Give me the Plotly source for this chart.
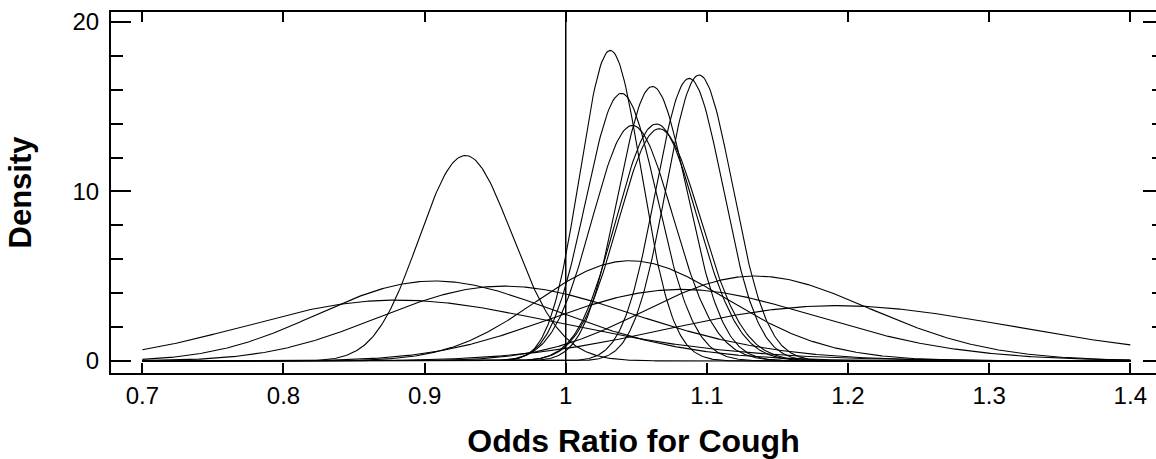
import numpy as np
import plotly.graph_objects as go

# Study-level posterior summaries for the odds ratio (median OR, SD of log OR)
study_median_or = [1.032, 1.040, 1.048, 1.062, 1.065, 1.067, 1.088, 1.095,
                   0.930, 0.915, 0.965, 1.050, 1.140, 0.895, 1.205, 1.090]
study_log_sd = [0.0211, 0.0243, 0.0274, 0.0232, 0.0268, 0.0273, 0.0220, 0.0216,
                0.0354, 0.0928, 0.0940, 0.0644, 0.0700, 0.1250, 0.1020, 0.0870]

or_min, or_max = 0.7, 1.4
reference_or = 1.0
x_tick_vals = [0.7, 0.8, 0.9, 1.0, 1.1, 1.2, 1.3, 1.4]
x_tick_text = ["0.7", "0.8", "0.9", "1", "1.1", "1.2", "1.3", "1.4"]
y_tick_vals = [0, 10, 20]
y_range = [-0.71, 20.59]

grid = np.linspace(or_min, or_max, 700)

fig = go.Figure()
for m, s in zip(study_median_or, study_log_sd):
    dens = np.exp(-((np.log(grid) - np.log(m)) ** 2) / (2 * s * s)) / (grid * s * np.sqrt(2 * np.pi))
    fig.add_trace(go.Scatter(x=grid, y=dens, mode="lines",
                             line=dict(color="black", width=1.1),
                             showlegend=False, hoverinfo="skip"))

# empty trace so the right-hand tick axis is drawn
fig.add_trace(go.Scatter(x=[], y=[], yaxis="y2", showlegend=False, hoverinfo="skip"))

fig.add_vline(x=reference_or, line=dict(color="black", width=1.5))

font_family = "Liberation Sans, Arial, sans-serif"
fig.update_layout(
    width=1156, height=459,
    margin=dict(l=111, r=0, t=12, b=86),
    paper_bgcolor="white", plot_bgcolor="white",
    font=dict(family=font_family, color="black"),
    yaxis2=dict(
        overlaying="y", side="right", range=y_range,
        tickvals=y_tick_vals, showticklabels=False,
        ticks="inside", ticklen=13, tickwidth=2, tickcolor="black",
        minor=dict(dtick=2, ticks="inside", ticklen=4, tickwidth=2, tickcolor="black"),
        showline=False, showgrid=False, zeroline=False, automargin=False,
    ),
)
fig.update_xaxes(
    range=[0.6778, 1.4182],
    tickvals=x_tick_vals, ticktext=x_tick_text,
    ticks="inside", ticklen=10, tickwidth=1.5, tickcolor="black",
    showline=True, linecolor="black", linewidth=2, mirror="ticks",
    showgrid=False, zeroline=False, automargin=False,
    tickfont=dict(size=24, family=font_family, color="black"),
    title=dict(text="<b>Odds Ratio for Cough</b>", font=dict(size=32, family=font_family, color="black"), standoff=29),
)
fig.update_layout(yaxis=dict(
    range=y_range,
    tickvals=y_tick_vals,
    ticks="inside", ticklen=20, tickwidth=2, tickcolor="black",
    minor=dict(dtick=2, ticks="inside", ticklen=12, tickwidth=2, tickcolor="black"),
    showline=True, linecolor="black", linewidth=2, mirror=False,
    showgrid=False, zeroline=False, automargin=False,
    ticklabelstandoff=5,
    tickfont=dict(size=24, family=font_family, color="black"),
    title=dict(text="<b>Density</b>", font=dict(size=31, family=font_family, color="black"), standoff=32),
))

fig.write_html(
    "out.html",
    config={"displayModeBar": False},
    post_script="document.body.style.margin='0';document.body.style.overflow='hidden';",
)
